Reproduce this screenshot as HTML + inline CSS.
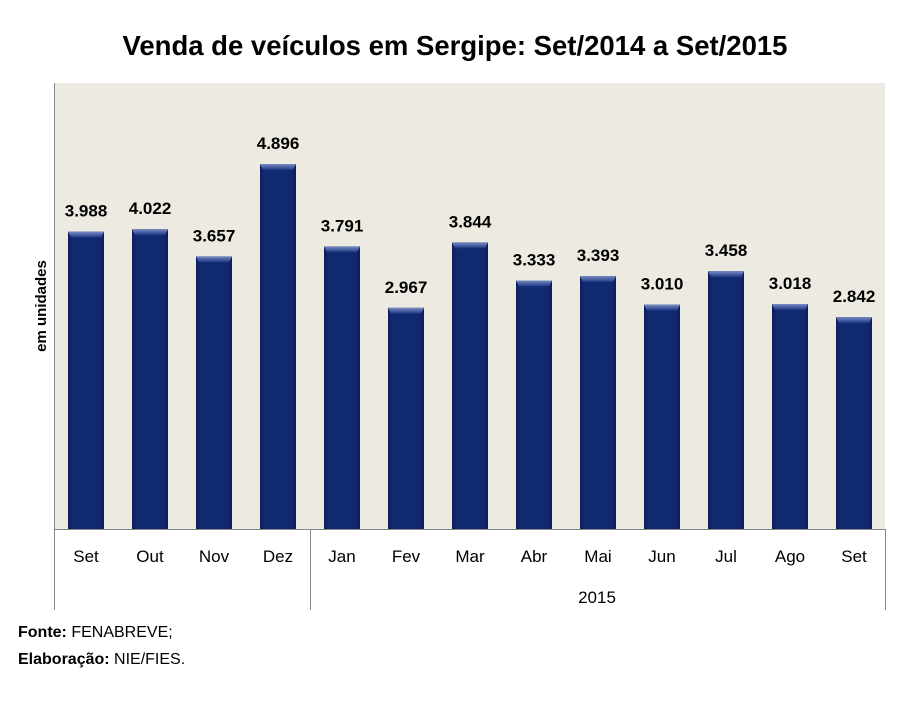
<!DOCTYPE html>
<html><head><meta charset="utf-8"><style>
body{margin:0;background:#fff;width:908px;height:697px;overflow:hidden}
</style></head><body>
<svg width="908" height="697" xmlns="http://www.w3.org/2000/svg" font-family="Liberation Sans, sans-serif">
<defs>
<linearGradient id="g" x1="0" y1="0" x2="1" y2="0">
<stop offset="0" stop-color="#0a1f5c"/><stop offset="0.15" stop-color="#12296e"/><stop offset="0.5" stop-color="#0f2a72"/><stop offset="0.85" stop-color="#12296e"/><stop offset="1" stop-color="#0a1f5c"/>
</linearGradient>
<linearGradient id="t" x1="0" y1="0" x2="0" y2="1">
<stop offset="0" stop-color="#7a8cc4"/><stop offset="1" stop-color="#1a3580"/>
</linearGradient>
</defs>
<text x="455" y="55" text-anchor="middle" font-size="27.5" font-weight="bold" fill="#000">Venda de veículos em Sergipe: Set/2014 a Set/2015</text>
<rect x="54" y="83" width="831" height="446" fill="#ECEAE1"/>
<line x1="54.5" y1="83" x2="54.5" y2="610" stroke="#888" stroke-width="1"/>
<line x1="54" y1="529.5" x2="886" y2="529.5" stroke="#888" stroke-width="1"/>
<line x1="310.5" y1="529" x2="310.5" y2="610" stroke="#888" stroke-width="1"/>
<line x1="885.5" y1="529" x2="885.5" y2="610" stroke="#888" stroke-width="1"/>
<text transform="translate(46,306) rotate(-90)" text-anchor="middle" font-size="15" font-weight="bold">em unidades</text>

<g font-size="17" text-anchor="middle">
<g transform="translate(68,0)"><rect y="231.7" width="36" height="297.3" fill="url(#g)"/><polygon points="0,231.7 36,231.7 33,237.7 3,237.7" fill="url(#t)"/><text x="18" y="216.7" font-weight="bold">3.988</text><text x="18" y="562">Set</text></g>
<g transform="translate(132,0)"><rect y="229.2" width="36" height="299.8" fill="url(#g)"/><polygon points="0,229.2 36,229.2 33,235.2 3,235.2" fill="url(#t)"/><text x="18" y="214.2" font-weight="bold">4.022</text><text x="18" y="562">Out</text></g>
<g transform="translate(196,0)"><rect y="256.4" width="36" height="272.6" fill="url(#g)"/><polygon points="0,256.4 36,256.4 33,262.4 3,262.4" fill="url(#t)"/><text x="18" y="241.4" font-weight="bold">3.657</text><text x="18" y="562">Nov</text></g>
<g transform="translate(260,0)"><rect y="164" width="36" height="365" fill="url(#g)"/><polygon points="0,164 36,164 33,170 3,170" fill="url(#t)"/><text x="18" y="149" font-weight="bold">4.896</text><text x="18" y="562">Dez</text></g>
<g transform="translate(324,0)"><rect y="246.4" width="36" height="282.6" fill="url(#g)"/><polygon points="0,246.4 36,246.4 33,252.4 3,252.4" fill="url(#t)"/><text x="18" y="231.4" font-weight="bold">3.791</text><text x="18" y="562">Jan</text></g>
<g transform="translate(388,0)"><rect y="307.8" width="36" height="221.2" fill="url(#g)"/><polygon points="0,307.8 36,307.8 33,313.8 3,313.8" fill="url(#t)"/><text x="18" y="292.8" font-weight="bold">2.967</text><text x="18" y="562">Fev</text></g>
<g transform="translate(452,0)"><rect y="242.4" width="36" height="286.6" fill="url(#g)"/><polygon points="0,242.4 36,242.4 33,248.4 3,248.4" fill="url(#t)"/><text x="18" y="227.4" font-weight="bold">3.844</text><text x="18" y="562">Mar</text></g>
<g transform="translate(516,0)"><rect y="280.5" width="36" height="248.5" fill="url(#g)"/><polygon points="0,280.5 36,280.5 33,286.5 3,286.5" fill="url(#t)"/><text x="18" y="265.5" font-weight="bold">3.333</text><text x="18" y="562">Abr</text></g>
<g transform="translate(580,0)"><rect y="276.1" width="36" height="252.9" fill="url(#g)"/><polygon points="0,276.1 36,276.1 33,282.1 3,282.1" fill="url(#t)"/><text x="18" y="261.1" font-weight="bold">3.393</text><text x="18" y="562">Mai</text></g>
<g transform="translate(644,0)"><rect y="304.6" width="36" height="224.4" fill="url(#g)"/><polygon points="0,304.6 36,304.6 33,310.6 3,310.6" fill="url(#t)"/><text x="18" y="289.6" font-weight="bold">3.010</text><text x="18" y="562">Jun</text></g>
<g transform="translate(708,0)"><rect y="271.2" width="36" height="257.8" fill="url(#g)"/><polygon points="0,271.2 36,271.2 33,277.2 3,277.2" fill="url(#t)"/><text x="18" y="256.2" font-weight="bold">3.458</text><text x="18" y="562">Jul</text></g>
<g transform="translate(772,0)"><rect y="304" width="36" height="225" fill="url(#g)"/><polygon points="0,304 36,304 33,310 3,310" fill="url(#t)"/><text x="18" y="289" font-weight="bold">3.018</text><text x="18" y="562">Ago</text></g>
<g transform="translate(836,0)"><rect y="317.1" width="36" height="211.9" fill="url(#g)"/><polygon points="0,317.1 36,317.1 33,323.1 3,323.1" fill="url(#t)"/><text x="18" y="302.1" font-weight="bold">2.842</text><text x="18" y="562">Set</text></g>
</g>

<text x="597" y="603" text-anchor="middle" font-size="17">2015</text>
<text x="18" y="637" font-size="16"><tspan font-weight="bold">Fonte:</tspan> FENABREVE;</text>
<text x="18" y="664" font-size="16"><tspan font-weight="bold">Elaboração:</tspan> NIE/FIES.</text>
</svg>
</body></html>
